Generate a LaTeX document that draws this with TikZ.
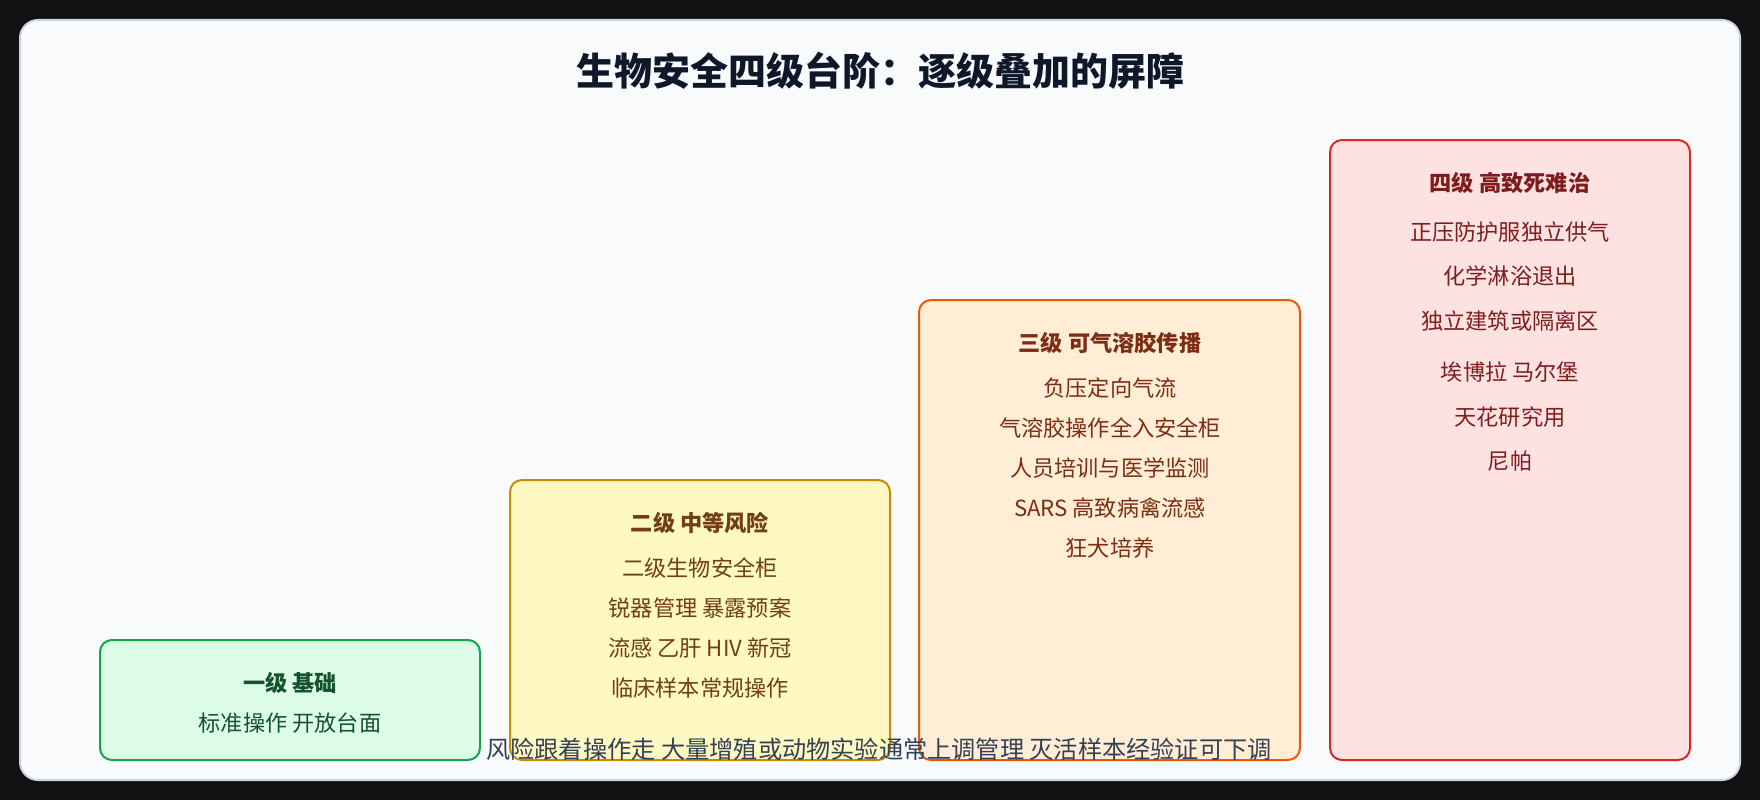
\documentclass[tikz,border=0pt]{standalone}
\usepackage{fontspec}
\setmainfont{Noto Sans CJK SC}
\definecolor{pagebg}{HTML}{111111}
\definecolor{cardfill}{HTML}{F8FAFC}
\definecolor{cardline}{HTML}{CBD5E1}
\definecolor{titlecol}{HTML}{0F172A}
\definecolor{notecol}{HTML}{334155}
\definecolor{gfill}{HTML}{DCFCE7}
\definecolor{gline}{HTML}{16A34A}
\definecolor{gtext}{HTML}{14532D}
\definecolor{yfill}{HTML}{FEF9C3}
\definecolor{yline}{HTML}{CA8A04}
\definecolor{ytext}{HTML}{713F12}
\definecolor{ofill}{HTML}{FFEDD5}
\definecolor{oline}{HTML}{EA580C}
\definecolor{otext}{HTML}{7C2D12}
\definecolor{rfill}{HTML}{FEE2E2}
\definecolor{rline}{HTML}{DC2626}
\definecolor{rtext}{HTML}{7F1D1D}
\begin{document}
\begin{tikzpicture}[x=1pt,y=-1pt,
  levelbox/.style={draw, line width=2pt, rounded corners=12pt, inner sep=0pt},
  lvtitle/.style={inner sep=0pt, font=\fontsize{22.2}{26}\selectfont\bfseries},
  lvline/.style={inner sep=0pt, font=\fontsize{22.2}{26}\selectfont}]
\useasboundingbox (0,0) rectangle (1760,800);
\fill[pagebg] (0,0) rectangle (1760,800);
\node[draw=cardline, fill=cardfill, line width=2pt, rounded corners=18pt,
  minimum width=1720pt, minimum height=760pt, inner sep=0pt] (card) at (880,400) {};
\node[inner sep=0pt, text=titlecol, font=\fontsize{38}{44}\selectfont\bfseries] (title) at (880,71) {生物安全四级台阶：逐级叠加的屏障};
% level 1
\node[levelbox, draw=gline, fill=gfill, minimum width=380pt, minimum height=120pt] (b1) at (290,700) {};
\node[lvtitle, text=gtext] (b1t) at (290,683) {一级 基础};
\node[lvline, text=gtext] (b1a) at (290,723) {标准操作 开放台面};
% level 2
\node[levelbox, draw=yline, fill=yfill, minimum width=380pt, minimum height=280pt] (b2) at (700,620) {};
\node[lvtitle, text=ytext] (b2t) at (700,523) {二级 中等风险};
\node[lvline, text=ytext] (b2a) at (700,568) {二级生物安全柜};
\node[lvline, text=ytext] (b2b) at (700,608) {锐器管理 暴露预案};
\node[lvline, text=ytext] (b2c) at (700,648) {流感 乙肝 HIV 新冠};
\node[lvline, text=ytext] (b2d) at (700,688) {临床样本常规操作};
% level 3
\node[levelbox, draw=oline, fill=ofill, minimum width=381pt, minimum height=460pt] (b3) at (1109.5,530) {};
\node[lvtitle, text=otext] (b3t) at (1110,343) {三级 可气溶胶传播};
\node[lvline, text=otext] (b3a) at (1110,388) {负压定向气流};
\node[lvline, text=otext] (b3b) at (1110,428) {气溶胶操作全入安全柜};
\node[lvline, text=otext] (b3c) at (1110,468) {人员培训与医学监测};
\node[lvline, text=otext] (b3d) at (1110,508) {SARS 高致病禽流感};
\node[lvline, text=otext] (b3e) at (1110,548) {狂犬培养};
% level 4
\node[levelbox, draw=rline, fill=rfill, minimum width=360pt, minimum height=620pt] (b4) at (1510,450) {};
\node[lvtitle, text=rtext] (b4t) at (1510,183) {四级 高致死难治};
\node[lvline, text=rtext] (b4a) at (1510,232) {正压防护服独立供气};
\node[lvline, text=rtext] (b4b) at (1510,276) {化学淋浴退出};
\node[lvline, text=rtext] (b4c) at (1510,321) {独立建筑或隔离区};
\node[lvline, text=rtext] (b4d) at (1510,372) {埃博拉 马尔堡};
\node[lvline, text=rtext] (b4e) at (1510,417) {天花研究用};
\node[lvline, text=rtext] (b4f) at (1510,461) {尼帕};
% note
\node[inner sep=0pt, text=notecol, font=\fontsize{24.2}{28}\selectfont] (note) at (879,749) {风险跟着操作走 大量增殖或动物实验通常上调管理 灭活样本经验证可下调};
\end{tikzpicture}
\end{document}
